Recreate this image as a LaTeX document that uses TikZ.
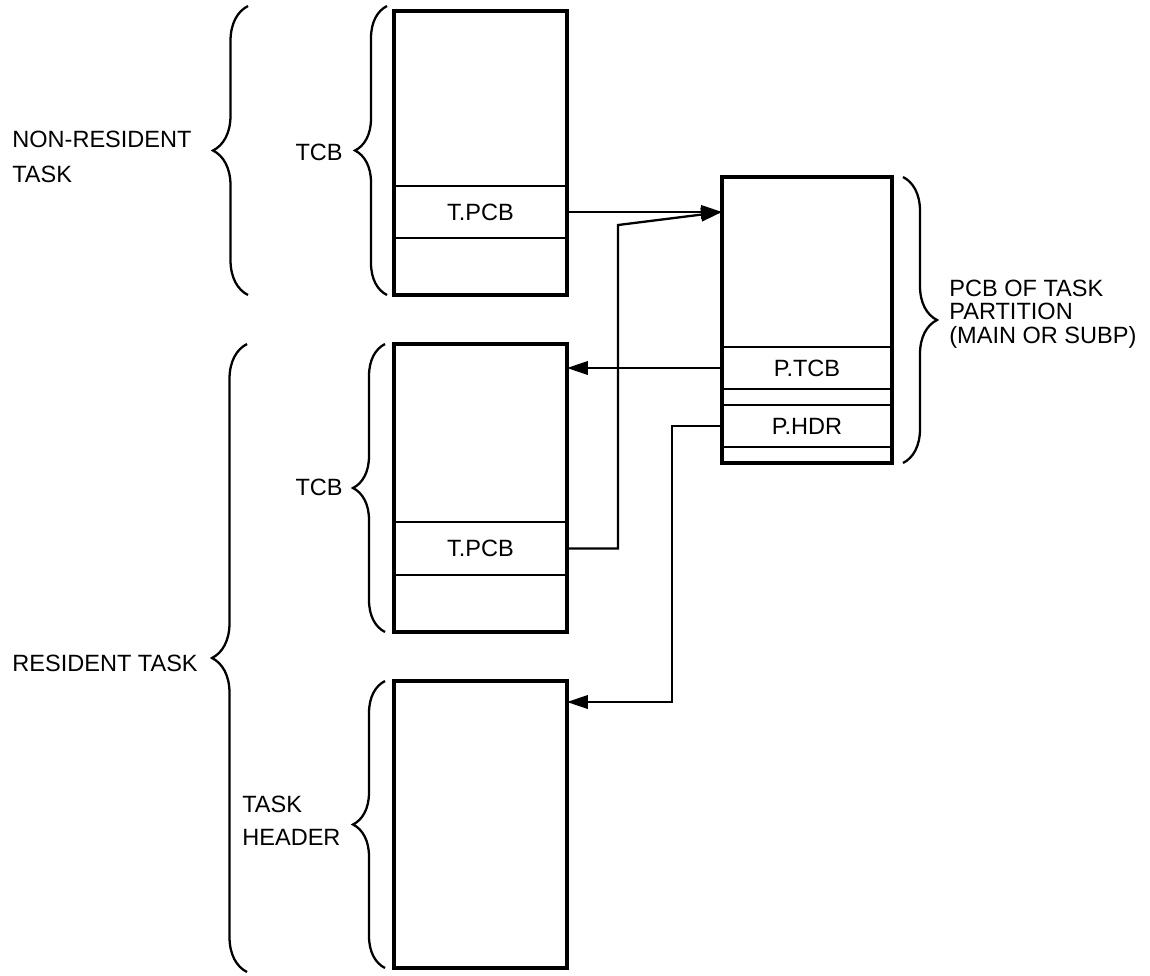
\documentclass[tikz,border=0pt]{standalone}
\usepackage{fontspec}
\setmainfont{Liberation Sans}
\usetikzlibrary{arrows.meta, positioning, decorations.pathreplacing}
\newcommand\lblfont{\fontsize{13.4}{15}\selectfont}

\begin{document}
\begin{tikzpicture}[
    x=0.02cm, y=-0.02cm,
    memblock/.style = {rectangle, draw, line width=2.2pt, minimum width=3.46cm,
                       inner sep=0pt, outer sep=0pt, anchor=north west},
    field/.style    = {rectangle, draw, line width=1.2pt, minimum width=3.46cm,
                       inner sep=0pt, outer sep=0pt, anchor=north west, font=\lblfont},
    lbl/.style      = {inner sep=0pt, align=left, font=\lblfont},
    arrow/.style    = {-{Triangle[length=0.42cm, width=0.27cm]}, line width=1.3pt},
    curly/.style    = {decorate, decoration={brace, amplitude=#1}, line width=1.3pt},
    curly/.default  = 0.64cm,
  ]
  \useasboundingbox (0,0) rectangle (1150,975);

  % non-resident task
  \node[memblock, minimum height=5.68cm] (tcbN)  at (394,11)  {};
  \node[field,    minimum height=1.04cm] (tpcbN) at (394,186) {T.PCB};

  % resident task
  \node[memblock, minimum height=5.76cm] (tcbR)  at (394,344) {};
  \node[field,    minimum height=1.06cm] (tpcbR) at (394,522) {T.PCB};
  \node[memblock, minimum height=5.74cm] (hdr)   at (394,681) {};

  % partition control block
  \node[memblock, minimum width=3.4cm, minimum height=5.72cm] (pcb)  at (722,177) {};
  \node[field,    minimum width=3.4cm, minimum height=0.84cm] (ptcb) at (722,347) {P.TCB};
  \node[field,    minimum width=3.4cm, minimum height=0.84cm] (phdr) at (722,405) {P.HDR};

  % braces
  \draw[curly]        (387,295) -- (387,6);
  \draw[curly=0.7cm]  (248,295) -- (248,6);
  \draw[curly]        (385,632) -- (385,344);
  \draw[curly]        (385,968) -- (385,681);
  \draw[curly=0.7cm]  (247,972) -- (247,344);
  \draw[curly=0.68cm] (903,177) -- (903,463);

  % labels
  \node[lbl, anchor=west, font=\fontsize{13.4}{20}\selectfont]
        (nonres)  at (12,157)  {NON-RESIDENT\\TASK};
  \node[lbl, anchor=east] (tcbNlbl) at (343,152) {TCB};
  \node[lbl, anchor=east] (tcbRlbl) at (343,487) {TCB};
  \node[lbl, anchor=west] (res)     at (12,663)  {RESIDENT TASK};
  \node[lbl, anchor=west, font=\fontsize{13.4}{19}\selectfont]
        (hdrlbl)  at (242,821) {TASK\\HEADER};
  \node[lbl, anchor=west, font=\fontsize{13.4}{13.4}\selectfont]
        (pcblbl)  at (949,314) {PCB OF TASK\\PARTITION\\(MAIN OR SUBP)};

  % pointers
  \coordinate (pcbIn) at (tpcbN.east -| pcb.west);
  \coordinate (riseR) at (618,225);
  \coordinate (dropH) at (672,702);
  \coordinate (hdrIn) at (hdr.east |- dropH);

  \draw[arrow] (tpcbN.east) -- (pcbIn);
  \draw[arrow] (tpcbR.east) -| (riseR) -- (pcbIn);
  \draw[arrow] (ptcb.west) -- (ptcb.west -| tcbR.east);
  \draw[arrow] (phdr.west) -| (dropH) -- (hdrIn);
\end{tikzpicture}
\end{document}
